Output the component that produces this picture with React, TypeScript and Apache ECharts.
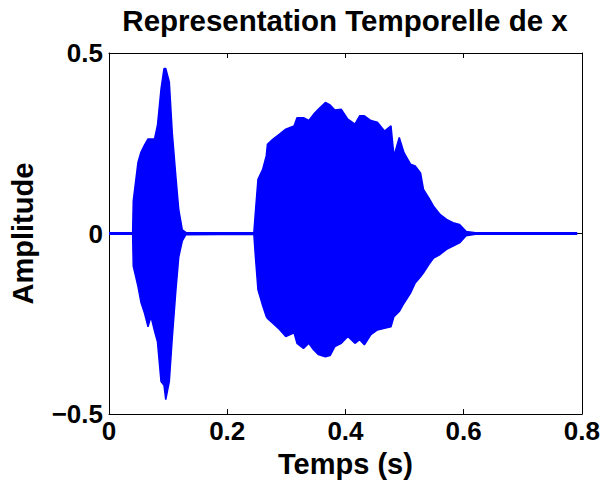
import React, { useEffect, useRef } from "react";
import * as echarts from "echarts";

// Envelope of the signal: time (s), upper peak, lower peak
const times = [
  0.0, 0.04, 0.041, 0.049, 0.054, 0.06, 0.066, 0.071, 0.077, 0.082, 0.088, 0.093,
  0.096, 0.102, 0.107, 0.113, 0.118, 0.124, 0.13, 0.245, 0.248, 0.252, 0.26, 0.266,
  0.268, 0.277, 0.288, 0.299, 0.313, 0.318, 0.329, 0.338, 0.346, 0.354, 0.366, 0.374,
  0.382, 0.393, 0.404, 0.416, 0.424, 0.432, 0.443, 0.454, 0.466, 0.477, 0.482, 0.491,
  0.499, 0.51, 0.518, 0.527, 0.532, 0.541, 0.549, 0.56, 0.571, 0.582, 0.593, 0.604,
  0.62, 0.792,
];
const upperPeaks = [
  0.002, 0.002, 0.09, 0.197, 0.225, 0.245, 0.262, 0.262, 0.262, 0.3, 0.4, 0.457,
  0.457, 0.42, 0.28, 0.16, 0.066, 0.01, 0.003, 0.002, 0.067, 0.15, 0.178, 0.215,
  0.247, 0.261, 0.275, 0.289, 0.298, 0.321, 0.321, 0.313, 0.33, 0.344, 0.363, 0.356,
  0.342, 0.344, 0.317, 0.303, 0.326, 0.326, 0.313, 0.308, 0.284, 0.298, 0.215, 0.266,
  0.224, 0.192, 0.187, 0.168, 0.122, 0.099, 0.076, 0.053, 0.039, 0.03, 0.025, 0.006,
  0.002, 0.002,
];
const lowerPeaks = [
  -0.002, -0.002, -0.09, -0.146, -0.19, -0.22, -0.258, -0.23, -0.27, -0.3, -0.41, -0.42,
  -0.46, -0.41, -0.29, -0.16, -0.065, -0.02, -0.003, -0.002, -0.072, -0.156, -0.2, -0.23,
  -0.235, -0.248, -0.265, -0.285, -0.275, -0.304, -0.318, -0.304, -0.322, -0.335, -0.341, -0.338,
  -0.313, -0.304, -0.285, -0.304, -0.294, -0.308, -0.28, -0.267, -0.262, -0.258, -0.23, -0.216,
  -0.193, -0.165, -0.137, -0.12, -0.109, -0.086, -0.068, -0.058, -0.044, -0.035, -0.026, -0.006,
  -0.002, -0.002,
];

const xTicks = [0, 0.2, 0.4, 0.6, 0.8];
const yTicks = [-0.5, 0, 0.5];

const TITLE = "Representation Temporelle de x";
const X_NAME = "Temps (s)";
const Y_NAME = "Amplitude";

const FONT = "'Liberation Sans', Arial, Helvetica, sans-serif";
const BLUE = "#0000ff";

function fmt(v: number): string {
  if (Math.abs(v) < 1e-9) return "0";
  const s = (Math.round(v * 10) / 10).toString();
  return s.replace("-", "\u2212");
}

export default function App() {
  const ref = useRef<HTMLDivElement>(null);
  useEffect(() => {
    if (!ref.current) return;
    const chart = echarts.init(ref.current, undefined, { renderer: "svg" });
    const upper = times.map((t, i) => [t, upperPeaks[i]]);
    const lower = times.map((t, i) => [t, lowerPeaks[i]]);
    const axisLine = { show: true, onZero: false, lineStyle: { color: "#000", width: 1 } };
    const tick = { show: true, inside: true, length: 5, lineStyle: { color: "#000", width: 1 } };
    const labelStyle = { fontFamily: FONT, fontWeight: "bold" as const, fontSize: 26, color: "#000" };
    const nameStyle = { fontFamily: FONT, fontWeight: "bold" as const, fontSize: 29, color: "#000" };
    chart.setOption({
      animation: false,
      backgroundColor: "#fff",
      title: {
        text: TITLE,
        left: 340,
        textAlign: "center",
        top: 0,
        textStyle: { fontFamily: FONT, fontWeight: "bold", fontSize: 29.5, color: "#000" },
      },
      grid: { left: 104, right: 21, top: 53, bottom: 68, containLabel: false },
      xAxis: [
        {
          type: "value",
          min: xTicks[0],
          max: xTicks[xTicks.length - 1],
          interval: 0.2,
          position: "bottom",
          axisLine,
          axisTick: tick,
          splitLine: { show: false },
          axisLabel: { ...labelStyle, margin: 4, formatter: (v: number) => fmt(v) },
          name: X_NAME,
          nameLocation: "middle",
          nameGap: 34,
          nameTextStyle: { ...nameStyle },
        },
        {
          type: "value",
          min: xTicks[0],
          max: xTicks[xTicks.length - 1],
          interval: 0.2,
          position: "top",
          axisLine,
          axisTick: tick,
          splitLine: { show: false },
          axisLabel: { show: false },
        },
      ],
      yAxis: [
        {
          type: "value",
          min: yTicks[0],
          max: yTicks[yTicks.length - 1],
          interval: 0.5,
          position: "left",
          axisLine,
          axisTick: tick,
          splitLine: { show: false },
          axisLabel: { ...labelStyle, margin: 6, formatter: (v: number) => fmt(v) },
          name: Y_NAME,
          nameLocation: "middle",
          nameGap: 72,
          nameRotate: 90,
          nameTextStyle: { ...nameStyle },
        },
        {
          type: "value",
          min: yTicks[0],
          max: yTicks[yTicks.length - 1],
          interval: 0.5,
          position: "right",
          axisLine,
          axisTick: tick,
          splitLine: { show: false },
          axisLabel: { show: false },
        },
      ],
      series: [
        {
          type: "line",
          data: upper,
          showSymbol: false,
          lineStyle: { color: BLUE, width: 1.5 },
          areaStyle: { color: BLUE, opacity: 1, origin: -0.002 },
          itemStyle: { color: BLUE },
        },
        {
          type: "line",
          data: lower,
          showSymbol: false,
          lineStyle: { color: BLUE, width: 1.5 },
          areaStyle: { color: BLUE, opacity: 1, origin: 0.002 },
          itemStyle: { color: BLUE },
        },
      ],
    });
    return () => chart.dispose();
  }, []);
  return <div ref={ref} style={{ width: 603, height: 483, position: "absolute", left: 0, top: 0 }} />;
}
